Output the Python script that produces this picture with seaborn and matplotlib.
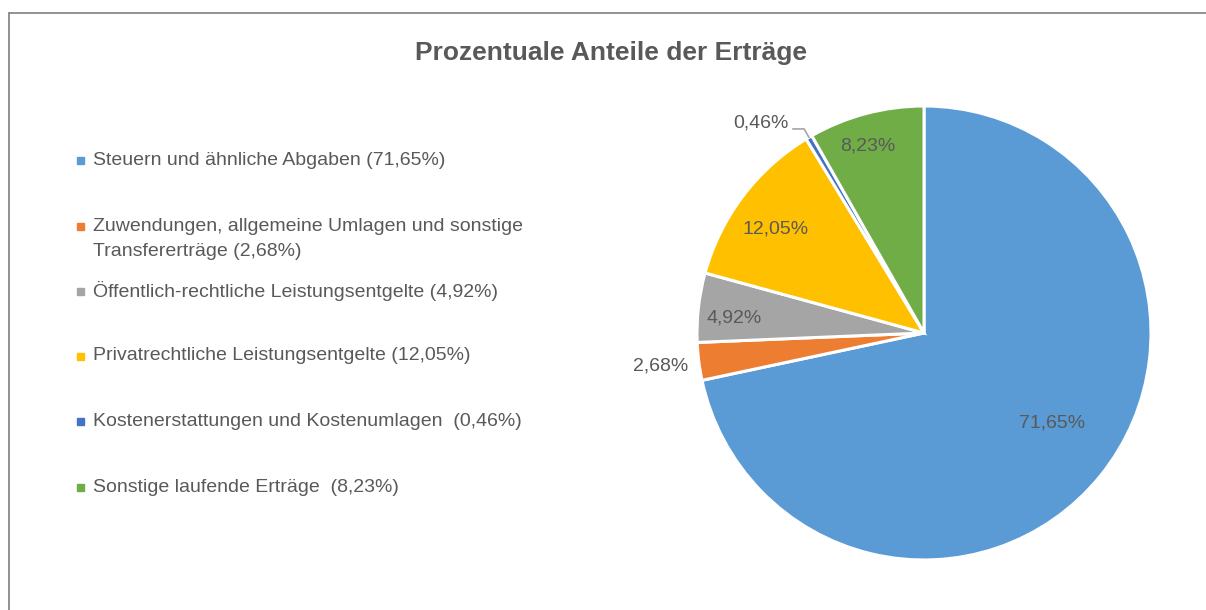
import matplotlib.pyplot as plt
import numpy as np
import seaborn as sns
from matplotlib.lines import Line2D
from matplotlib.patches import Rectangle

# data
categories = [
    "Steuern und ähnliche Abgaben",
    "Zuwendungen, allgemeine Umlagen und sonstige\nTransfererträge",
    "Öffentlich-rechtliche Leistungsentgelte",
    "Privatrechtliche Leistungsentgelte",
    "Kostenerstattungen und Kostenumlagen ",
    "Sonstige laufende Erträge ",
]
shares = [71.65, 2.68, 4.92, 12.05, 0.46, 8.23]
hex_colors = ["#5B9BD5", "#ED7D31", "#A5A5A5", "#FFC000", "#4472C4", "#70AD47"]
title = "Prozentuale Anteile der Erträge"

W, H = 1206, 610
TXT = "#595959"

sns.set_theme(style="white")
plt.rcParams["font.family"] = ["Liberation Sans", "DejaVu Sans"]
palette = sns.color_palette(hex_colors)


def fx(px):
    return px / W


def fy(py):
    return 1 - py / H


fig = plt.figure(figsize=(W / 100, H / 100), dpi=100)

# outer frame (only top and left edges visible in the crop)
fig.add_artist(Line2D([fx(9), 1.0], [fy(13), fy(13)], color="#7F7F7F", lw=1.2))
fig.add_artist(Line2D([fx(9), fx(9)], [fy(13), 0.0], color="#7F7F7F", lw=1.2))

fig.text(fx(611), fy(53), title, ha="center", va="center",
         fontsize=19, fontweight="bold", color=TXT)

# pie: centre (924, 333) px, radius 227 px
cx, cy, R = 924, 333, 227
ax = fig.add_axes([fx(cx - R), fy(cy + R), 2 * R / W, 2 * R / H])
wedges, _ = ax.pie(shares, colors=palette, startangle=90, counterclock=False,
                   radius=1, wedgeprops=dict(edgecolor="white", linewidth=2.2))
ax.set_xlim(-1, 1)
ax.set_ylim(-1, 1)
ax.set_aspect("equal")
ax.axis("off")

# radial distance and small angle nudge (deg) for each label
label_pos = [(0.69, 4), (1.17, 0), (0.84, 2), (0.80, 2), None, (0.86, 2)]
for w, val, pos in zip(wedges, shares, label_pos):
    mid = (w.theta1 + w.theta2) / 2
    txt = f"{val:.2f}%".replace(".", ",")
    if pos is None:
        # small slice: label with leader line
        m = np.deg2rad(mid)
        ex, ey = np.cos(m), np.sin(m)
        bx, by = ex - 0.021, ey + 0.037
        lx = bx - 0.05
        ax.add_line(Line2D([ex, bx, lx], [ey, by, by], color="#A5A5A5",
                           lw=1.2, clip_on=False))
        ax.text(lx - 0.02, by + 0.025, txt, ha="right", va="center",
                fontsize=14, color=TXT, clip_on=False)
        continue
    d, nudge = pos
    a = np.deg2rad(mid + nudge)
    ax.text(d * np.cos(a), d * np.sin(a), txt, ha="center", va="center",
            fontsize=14, color=TXT, clip_on=False)

# legend drawn by hand to follow the reference spacing
legend_y = [160, 226, 291, 356, 421, 487]
for lab, val, col, y in zip(categories, shares, palette, legend_y):
    fig.add_artist(Rectangle((fx(77), fy(y + 3.5)), 7 / W, 7 / H,
                             color=col, transform=fig.transFigure))
    full = f"{lab} ({val:.2f}%)".replace(".", ",")
    for i, line in enumerate(full.split("\n")):
        fig.text(fx(93), fy(y + 25 * i), line, ha="left", va="center",
                 fontsize=14, color=TXT)

fig.savefig("out.png", dpi=100)
